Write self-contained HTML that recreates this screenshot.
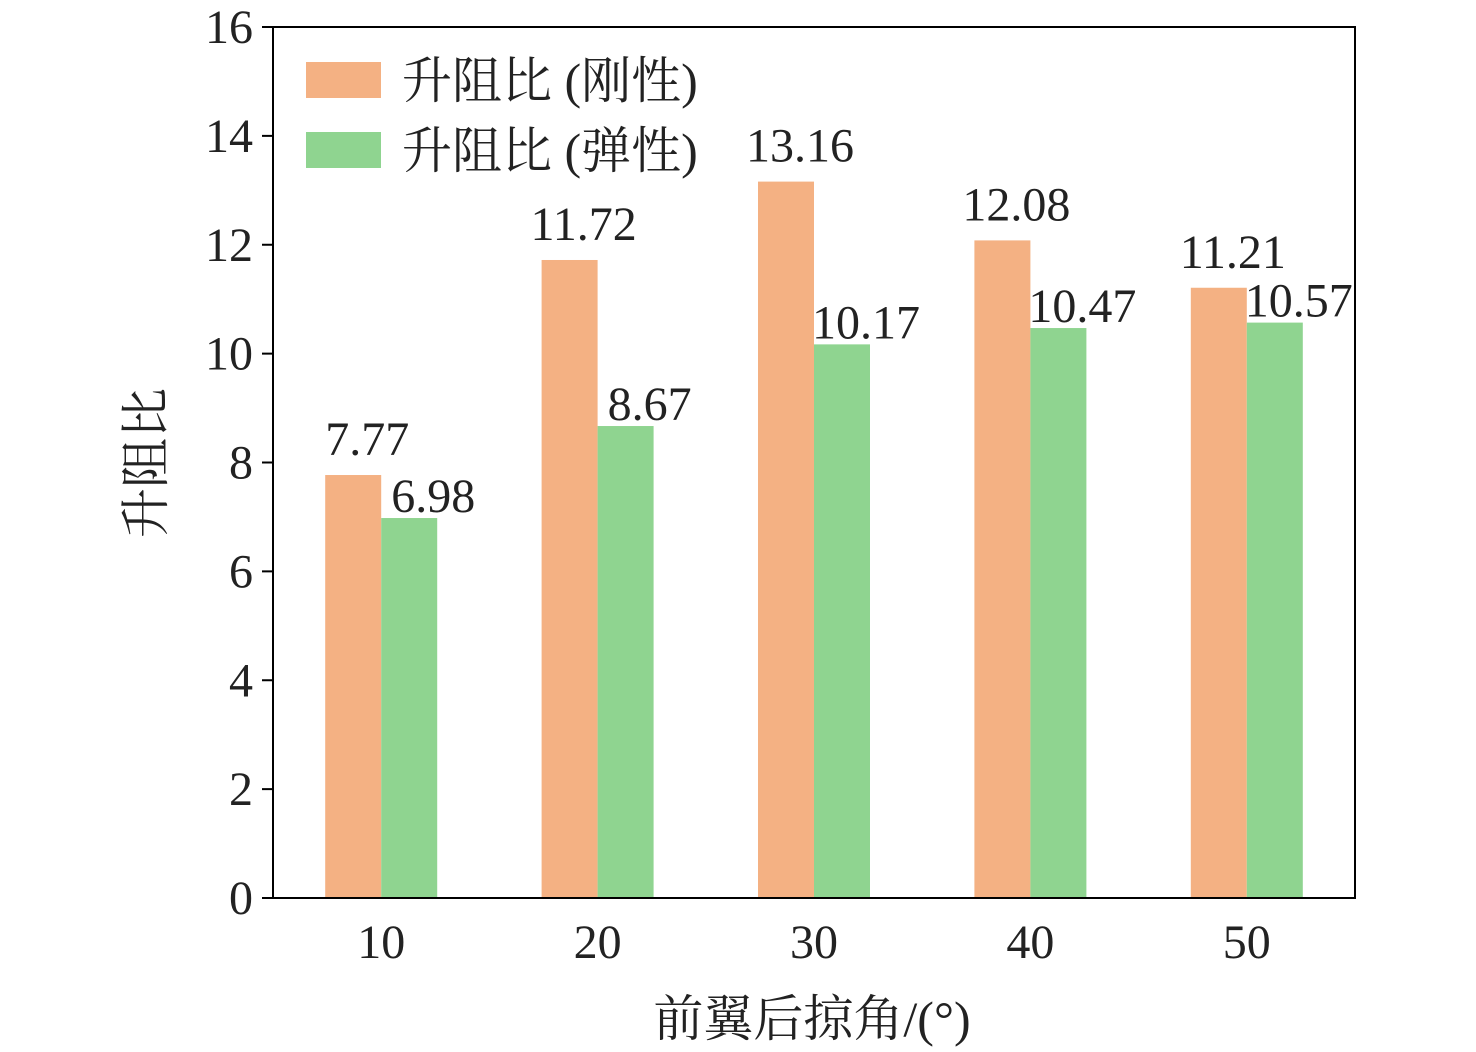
<!DOCTYPE html>
<html><head><meta charset="utf-8"><style>
html,body{margin:0;padding:0;background:#fff;}
svg{display:block;font-family:"Liberation Serif","Noto Serif CJK SC",serif;}
</style></head><body>
<svg id="chart" width="1476" height="1052" viewBox="0 0 1476 1052">
<g id="marks"></g>
</svg>
<script>
const categories = ["10","20","30","40","50"];
const rigidValues = [7.77, 11.72, 13.16, 12.08, 11.21];
const elasticValues = [6.98, 8.67, 10.17, 10.47, 10.57];
const yTicks = [0,2,4,6,8,10,12,14,16];

const NS="http://www.w3.org/2000/svg";
const svg=document.getElementById('chart');
const g=document.getElementById('marks');
const L=273,R=1355,T=27,B=898,YMAX=16;
const y=v=>B-(v/YMAX)*(B-T);
const catW=(R-L)/categories.length;
const xc=i=>L+catW*(i+0.5);
function mk(tag,attrs,parent){const e=document.createElementNS(NS,tag);for(const k in attrs)e.setAttribute(k,attrs[k]);(parent||svg).appendChild(e);return e;}

const bw=56;
categories.forEach((c,i)=>{
  const cx=xc(i)-troughFix(i);
  const r=mk('rect',{x:cx-bw,y:y(rigidValues[i]),width:bw,height:B-y(rigidValues[i]),fill:'#F4B183'},g);
  
  
  const e=mk('rect',{x:cx,y:y(elasticValues[i]),width:bw,height:B-y(elasticValues[i]),fill:'#8FD490'},g);
  
  
  const t1=mk('text',{x:cx-bw/2+14,y:y(rigidValues[i])-20,'font-size':48,'text-anchor':'middle',fill:'#222'});
  t1.textContent=rigidValues[i].toFixed(2);
  
  
  const t2=mk('text',{x:cx+bw/2+24,y:y(elasticValues[i])-6,'font-size':48,'text-anchor':'middle',fill:'#222'});
  t2.textContent=elasticValues[i].toFixed(2);
  
  
  const xl=mk('text',{x:cx,y:958,'font-size':48,'text-anchor':'middle',fill:'#222'});
  xl.textContent=c;
  
  
});
function troughFix(i){return 0;}
yTicks.forEach(v=>{
  const l=mk('line',{x1:262,x2:L,y1:y(v),y2:y(v),stroke:'#000','stroke-width':2});
  
  
  const t=mk('text',{x:253,y:y(v)+16,'font-size':48,'text-anchor':'end',fill:'#222'});
  t.textContent=v;
  
  
});
const frame=mk('rect',{x:L,y:T,width:R-L,height:B-T,fill:'none',stroke:'#000','stroke-width':2});



const lg=mk('g',{});


const lr1=mk('rect',{x:306,y:62,width:75,height:36,fill:'#F4B183'},lg);


const lt1=mk('text',{x:402,y:98,'font-size':50,fill:'#222'},lg);
lt1.textContent='升阻比 (刚性)';


const lr2=mk('rect',{x:306,y:132,width:75,height:36,fill:'#8FD490'},lg);


const lt2=mk('text',{x:402,y:168,'font-size':50,fill:'#222'},lg);
lt2.textContent='升阻比 (弹性)';



const xt=mk('text',{x:812,y:1036,'font-size':50,'text-anchor':'middle',fill:'#222'});
xt.textContent='前翼后掠角/(°)';


const yt=mk('text',{x:0,y:0,'font-size':50,'text-anchor':'middle',fill:'#222',transform:'translate(163,463) rotate(-90)'});
yt.textContent='升阻比';


</script>
</body></html>
